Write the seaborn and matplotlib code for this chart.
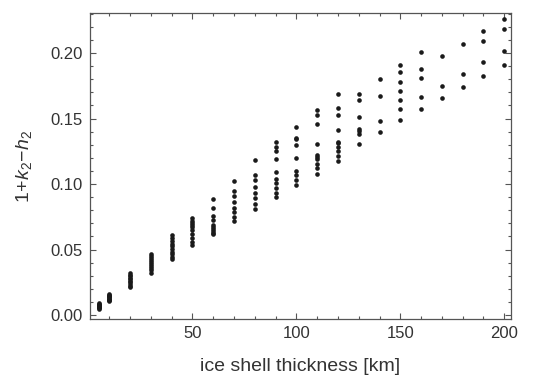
import numpy as np
import pandas as pd
import matplotlib
matplotlib.use("Agg")
import matplotlib.pyplot as plt
import seaborn as sns
from matplotlib.ticker import MultipleLocator, FormatStrFormatter

# ice shell thickness [km] for each column of points
thickness = [5, 10, 20, 30, 40, 50, 60, 70, 80, 90, 100,
             110, 120, 130, 140, 150, 160, 170, 180, 190, 200]

# 1 + k2 - h2, one list per thickness
d005 = [0.0050, 0.0055, 0.0060, 0.0064, 0.0068, 0.0072, 0.0076, 0.0080, 0.0085, 0.0089]
d010 = [0.0105, 0.0112, 0.0118, 0.0124, 0.0130, 0.0136, 0.0142, 0.0148, 0.0154, 0.0160]
d020 = [0.0212, 0.0225, 0.0237, 0.0249, 0.0261, 0.0273, 0.0285, 0.0297, 0.0309, 0.0320]
d030 = [0.0325, 0.0343, 0.0360, 0.0375, 0.0390, 0.0405, 0.0420, 0.0435, 0.0452, 0.0470]
d040 = [0.0425, 0.0445, 0.0465, 0.0485, 0.0505, 0.0525, 0.0545, 0.0565, 0.0585, 0.0610]
d050 = [0.0535, 0.0560, 0.0590, 0.0620, 0.0650, 0.0672, 0.0690, 0.0705, 0.0720, 0.0742]
d060 = [0.0615, 0.0630, 0.0645, 0.0660, 0.0675, 0.0690, 0.0722, 0.0755, 0.0818, 0.0888]
d070 = [0.0715, 0.0750, 0.0785, 0.0820, 0.0860, 0.0910, 0.0945, 0.1023]
d080 = [0.0810, 0.0850, 0.0890, 0.0930, 0.0980, 0.1030, 0.1068, 0.1180]
d090 = [0.0900, 0.0935, 0.0970, 0.1005, 0.1040, 0.1090, 0.1188, 0.1250, 0.1285, 0.1318]
d100 = [0.0990, 0.1030, 0.1068, 0.1100, 0.1200, 0.1300, 0.1340, 0.1355, 0.1438]
d110 = [0.1080, 0.1120, 0.1155, 0.1190, 0.1210, 0.1225, 0.1305, 0.1460, 0.1530, 0.1568]
d120 = [0.1175, 0.1215, 0.1255, 0.1285, 0.1310, 0.1323, 0.1410, 0.1530, 0.1578, 0.1688]
d130 = [0.1305, 0.1385, 0.1405, 0.1420, 0.1512, 0.1640, 0.1688]
d140 = [0.1395, 0.1483, 0.1675, 0.1800]
d150 = [0.1485, 0.1575, 0.1638, 0.1713, 0.1780, 0.1853, 0.1910]
d160 = [0.1570, 0.1665, 0.1810, 0.1875, 0.2010]
d170 = [0.1658, 0.1750, 0.1975]
d180 = [0.1740, 0.1840, 0.2070]
d190 = [0.1825, 0.1930, 0.2090, 0.2165]
d200 = [0.1908, 0.2013, 0.2180, 0.2258]

columns = [d005, d010, d020, d030, d040, d050, d060, d070, d080, d090, d100,
           d110, d120, d130, d140, d150, d160, d170, d180, d190, d200]

rows = []
for t, vals in zip(thickness, columns):
    for v in vals:
        rows.append({"thickness": t, "value": v})
df = pd.DataFrame(rows)

sns.set_style("ticks")
plt.rcParams["font.family"] = ["Liberation Sans", "DejaVu Sans"]
plt.rcParams["mathtext.fontset"] = "custom"
plt.rcParams["mathtext.rm"] = "Liberation Sans"
plt.rcParams["mathtext.it"] = "Liberation Sans:italic"

text_col = "#333333"
frame_col = "#555555"

fig = plt.figure(figsize=(5.5, 3.78), dpi=100)
ax = fig.add_axes([0.1636, 0.156, 0.7654, 0.8096])

sns.scatterplot(data=df, x="thickness", y="value", ax=ax, color="#1a1a1a",
                s=11, linewidth=0, legend=False)

ax.set_xlim(0.8, 203.2)
ax.set_ylim(-0.003, 0.2305)

ax.xaxis.set_major_locator(MultipleLocator(50))
ax.xaxis.set_minor_locator(MultipleLocator(10))
ax.yaxis.set_major_locator(MultipleLocator(0.05))
ax.yaxis.set_minor_locator(MultipleLocator(0.01))
ax.yaxis.set_major_formatter(FormatStrFormatter("%.2f"))

ax.tick_params(which="both", direction="in", top=True, right=True,
               color=frame_col, width=0.8, labelsize=12, labelcolor=text_col,
               pad=5)
ax.tick_params(which="major", length=4.5)
ax.tick_params(which="minor", length=2.2)
for sp in ax.spines.values():
    sp.set_color(frame_col)
    sp.set_linewidth(0.9)

ax.set_xlabel("ice shell thickness [km]", fontsize=14, color=text_col, labelpad=12)
ax.set_ylabel(r"$1\!+\!k_2\!-\!h_2$", fontsize=14, color=text_col, labelpad=12)

fig.savefig("out.png", dpi=100)
